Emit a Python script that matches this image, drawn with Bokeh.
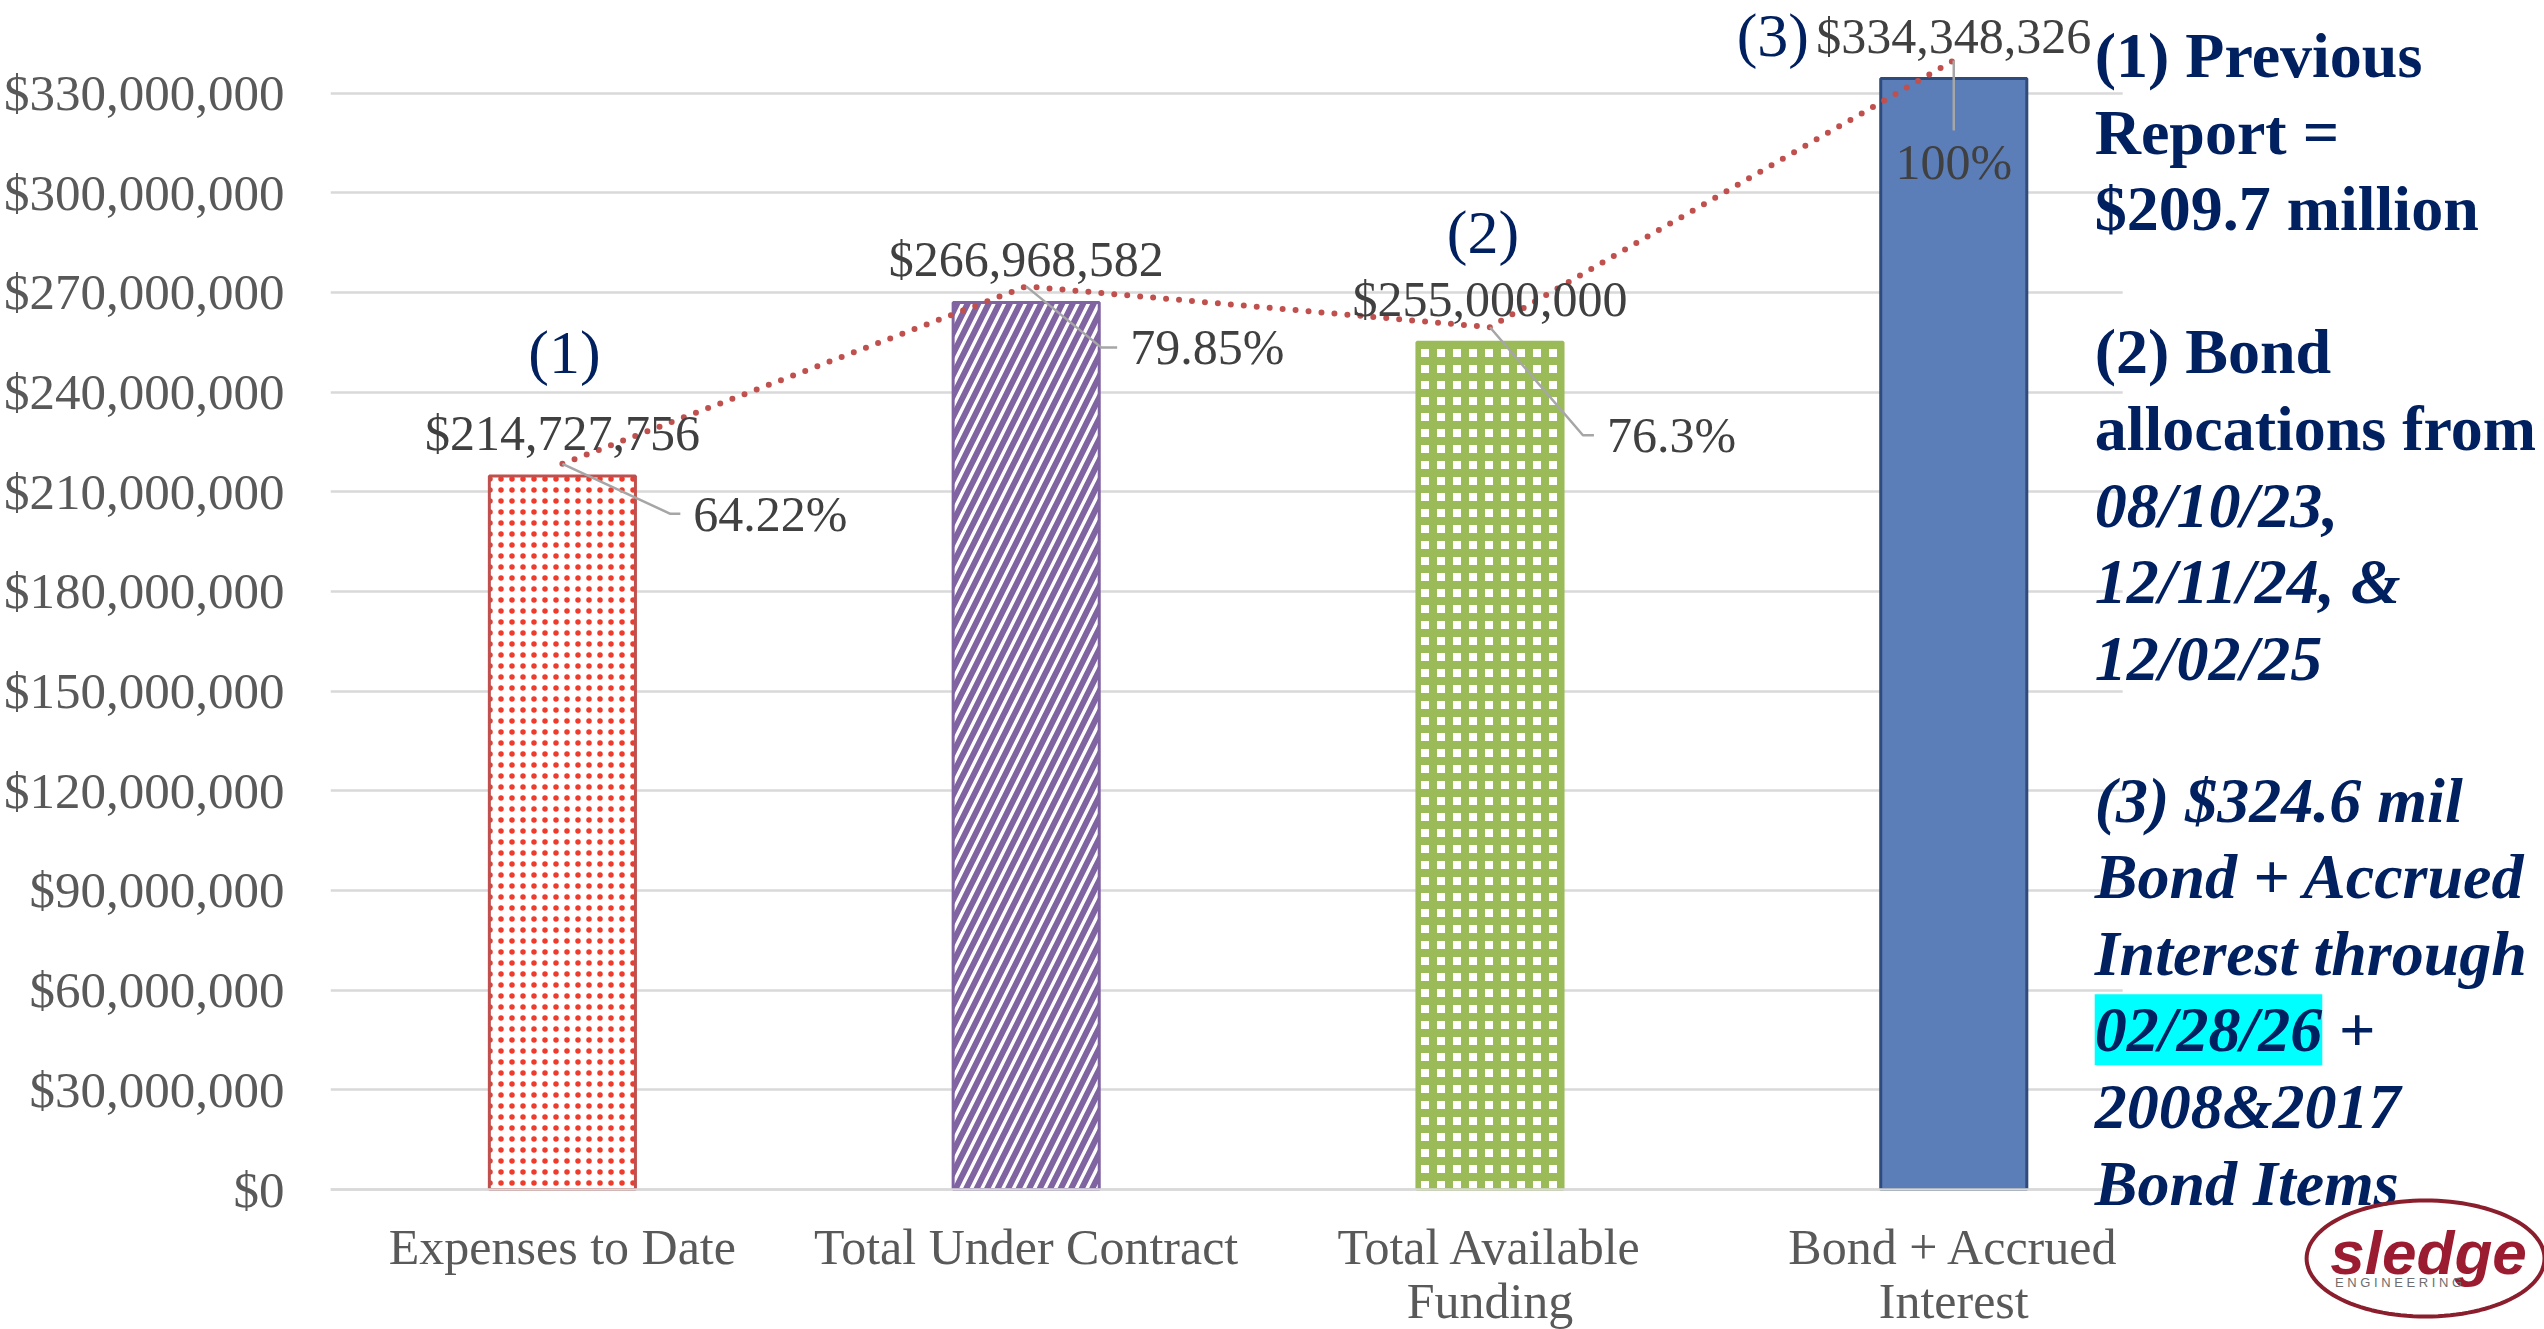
import math
from bokeh.plotting import figure
from bokeh.models import (Range1d, FixedTicker, NumeralTickFormatter, Label,
                          PolyAnnotation, BoxAnnotation)
from bokeh.embed import file_html
from bokeh.resources import INLINE
from bokeh.core.properties import value

# ---------------- data ----------------
categories = ["Expenses to Date", "Total Under Contract",
              "Total Available\nFunding", "Bond + Accrued\nInterest"]
bar_values = [214727756, 266968582, 255000000, 334348326]
trend_values = [218.4e6, 271.8e6, 259.5e6, 339.8e6]
pct_labels = ["64.22%", "79.85%", "76.3%", "100%"]
note_labels = ["(1)", "", "(2)", "(3)"]
y_ticks = [0, 30000000, 60000000, 90000000, 120000000, 150000000, 180000000,
           210000000, 240000000, 270000000, 300000000, 330000000]
side_lines = ["(1) Previous", "Report =", "$209.7 million",
              "(2) Bond", "allocations from", "08/10/23,", "12/11/24, &", "12/02/25",
              "(3) $324.6 mil", "Bond + Accrued", "Interest through", "02/28/26",
              "2008&2017", "Bond Items"]
side_styles = ["bold", "bold", "bold", "bold", "bold", "bold italic", "bold italic",
               "bold italic", "bold italic", "bold italic", "bold italic", "bold italic",
               "bold italic", "bold italic"]

# ---------------- geometry (page pixels) ----------------
W, H = 2544, 1329
FL = 329            # frame left
GRID_END = 2122     # where the gridlines stop (white note box begins)
FB = 1189           # pixel row of the $0 baseline
PX_CAT = 464.0
PX_USD = (1189 - 92.5) / 330e6
x_start = -0.5
x_end = x_start + (W - FL) / PX_CAT
y_end = FB / PX_USD
y_start = -(H - FB) / PX_USD


def sx(x):
    return FL + (x - x_start) * PX_CAT


def sy(y):
    return FB - y * PX_USD


def X(px):
    return x_start + (px - FL) / PX_CAT


def Y(py):
    return (FB - py) / PX_USD


SERIF = "Liberation Serif"
NAVY = "#002060"

p = figure(width=W, height=H, x_range=Range1d(x_start, x_end),
           y_range=Range1d(y_start, y_end),
           output_backend="svg", toolbar_location=None,
           min_border_left=FL, min_border_right=0, min_border_top=0,
           min_border_bottom=0)
p.outline_line_color = None
p.background_fill_color = "white"
p.xgrid.visible = False
p.ygrid.grid_line_color = "#D9D9D9"
p.ygrid.grid_line_width = 2.5

p.yaxis.ticker = FixedTicker(ticks=y_ticks)
p.yaxis.formatter = NumeralTickFormatter(format="$0,0")
p.yaxis.axis_line_color = None
p.yaxis.major_tick_line_color = None
p.yaxis.minor_tick_line_color = None
p.yaxis.major_label_text_font = SERIF
p.yaxis.major_label_text_font_size = "51px"
p.yaxis.major_label_text_color = "#595959"
p.yaxis.major_label_standoff = 40

p.xaxis.fixed_location = 0
p.xaxis.ticker = FixedTicker(ticks=list(range(len(categories))))
p.xaxis.major_label_overrides = {i: c for i, c in enumerate(categories)}
p.xaxis.axis_line_color = "#D9D9D9"
p.xaxis.axis_line_width = 2.5
p.xaxis.major_tick_line_color = None
p.xaxis.minor_tick_line_color = None
p.xaxis.major_label_text_font = SERIF
p.xaxis.major_label_text_font_size = "50px"
p.xaxis.major_label_text_color = "#595959"
p.xaxis.major_label_text_line_height = 0.98
p.xaxis.major_label_standoff = 23

# ---------------- bars ----------------
bar_styles = [
    dict(fill_color="white", line_color="#C0504D", hatch_pattern="dot",
         hatch_color="#EE3B2B", hatch_scale=11, hatch_weight=3),
    dict(fill_color="white", line_color="#8064A2", hatch_pattern="right_diagonal_line",
         hatch_color="#8064A2", hatch_scale=21, hatch_weight=6),
    dict(fill_color="white", line_color="#9BBB59", hatch_pattern="cross",
         hatch_color="#9BBB59", hatch_scale=16, hatch_weight=8),
    dict(fill_color="#5B7DB8", line_color="#2F4B7C"),
]
for i, st in enumerate(bar_styles):
    p.vbar(x=[i], top=[bar_values[i]], bottom=0, width=0.315, line_width=3, **st)

# ---------------- trend line ----------------
xs = list(range(len(bar_values)))
p.line(x=xs, y=trend_values, line_color="#C0504D", line_width=6,
       line_dash="0 13", line_cap="round")

# ---------------- leader lines & percent labels ----------------
pct_dx = [131, 104, 117, 0]
pct_dy = [50, 61, 108, 102]
tails = [10, 16, 11, 0]
lead_xs, lead_ys = [], []
pct_x, pct_y = [], []
for i in range(len(xs)):
    px0, py0 = sx(xs[i]), sy(trend_values[i])
    lx, ly = px0 + pct_dx[i], py0 + pct_dy[i]
    pct_x.append(X(lx))
    pct_y.append(Y(ly))
    if i < 3:
        ex = lx - 13
        lead_xs.append([X(px0), X(ex - tails[i]), X(ex)])
        lead_ys.append([Y(py0), Y(ly), Y(ly)])
    else:
        lead_xs.append([X(px0), X(px0)])
        lead_ys.append([Y(py0), Y(ly - 32)])
p.multi_line(xs=lead_xs, ys=lead_ys, line_color="#A6A6A6", line_width=2.5)

p.text(x=pct_x[:3], y=pct_y[:3], text=pct_labels[:3], text_font=value(SERIF),
       text_font_size="50px", text_color="#404040", text_align="left",
       text_baseline="middle")
p.text(x=pct_x[3:], y=pct_y[3:], text=pct_labels[3:], text_font=value(SERIF),
       text_font_size="50px", text_color="#404040", text_align="center",
       text_baseline="middle")

# ---------------- value labels ----------------
val_y = [Y(sy(v) - 43) for v in bar_values]
p.text(x=xs, y=val_y, text=[f"${v:,.0f}" for v in bar_values], text_font=value(SERIF),
       text_font_size="50px", text_color="#404040", text_align="center",
       text_baseline="middle")

# ---------------- note markers ----------------
note_dx = [2, 0, -7, -181]
note_dy = [-124, 0, -110, -44]
nx, ny, nt = [], [], []
for i, t in enumerate(note_labels):
    if t:
        nx.append(X(sx(xs[i]) + note_dx[i]))
        ny.append(Y(sy(bar_values[i]) + note_dy[i]))
        nt.append(t)
p.text(x=nx, y=ny, text=nt, text_font=value(SERIF), text_font_size="62px",
       text_color=NAVY, text_align="center", text_baseline="middle")

# ---------------- white note box (hides gridlines on the right) ----------------
p.add_layout(BoxAnnotation(left=X(GRID_END), fill_color="white", fill_alpha=1.0,
                           line_color=None))

# ---------------- side notes ----------------
slots = [0, 1, 2, 3.87, 4.87, 5.87, 6.87, 7.87, 9.72, 10.72, 11.72, 12.72, 13.72, 14.72]
TX = 2094
for t, st, k in zip(side_lines, side_styles, slots):
    cy = 55 + 76.6 * k
    kw = {}
    if t == "02/28/26":
        kw = dict(background_fill_color="#00FFFF")
    p.add_layout(Label(x=X(TX), y=Y(cy), text=t, text_font=SERIF, text_font_style=st,
                       text_font_size="64px", text_color=NAVY, text_baseline="middle",
                       text_align="left", **kw))
    if t == "02/28/26":
        p.add_layout(Label(x=X(TX + 244), y=Y(cy), text="+", text_font=SERIF,
                           text_font_style=st, text_font_size="64px", text_color=NAVY,
                           text_baseline="middle", text_align="left"))

# ---------------- logo ----------------
cx, cy, rx, ry = 2425, 1258, 119, 58
n = 120
ex = [X(cx + rx * math.cos(2 * math.pi * k / n)) for k in range(n)]
ey = [Y(cy + ry * math.sin(2 * math.pi * k / n)) for k in range(n)]
p.add_layout(PolyAnnotation(xs=ex, ys=ey, fill_color=None, fill_alpha=0,
                            line_color="#8B1E2D", line_alpha=1.0, line_width=4))
p.add_layout(Label(x=X(2428), y=Y(1252), text="sledge", text_font="Liberation Sans",
                   text_font_style="bold italic", text_font_size="62px",
                   text_color="#9B1B30", text_align="center", text_baseline="middle"))
p.add_layout(Label(x=X(2398), y=Y(1282), text="E N G I N E E R I N G",
                   text_font="Liberation Sans", text_font_size="13px",
                   text_color="#6D6D6D", text_align="center", text_baseline="middle"))

open("out.html", "w").write(file_html(p, INLINE))
